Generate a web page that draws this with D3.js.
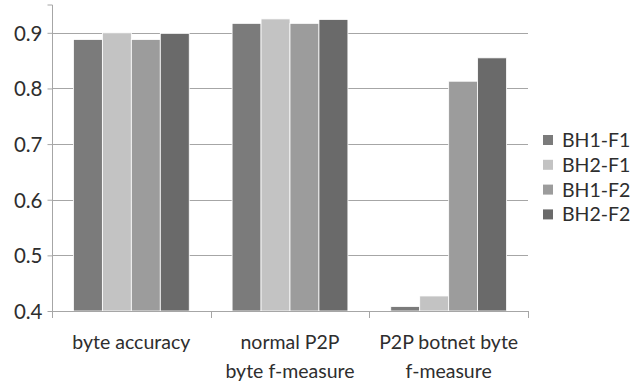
<!DOCTYPE html>
<html>
<head>
<meta charset="utf-8">
<script src="https://cdn.jsdelivr.net/npm/d3@7"></script>
<style>
  body { margin: 0; background: #fff; }
  svg text { font-family: Lato, "Open Sans", sans-serif; fill: #2e2e2e; }
</style>
</head>
<body>
<svg width="631" height="383"></svg>
<script>
// categories (x) and series
let categories = [["byte accuracy"], ["normal P2P", "byte f-measure"], ["P2P botnet byte", "f-measure"]];
let seriesNames = ["BH1-F1", "BH2-F1", "BH1-F2", "BH2-F2"];
let seriesColors = ["#7b7b7b", "#c3c3c3", "#9c9c9c", "#6a6a6a"];

// values per series, one per category
let bh1f1 = [0.888, 0.917, 0.408];
let bh2f1 = [0.900, 0.925, 0.427];
let bh1f2 = [0.888, 0.917, 0.813];
let bh2f2 = [0.899, 0.924, 0.855];

let yTicks = [0.4, 0.5, 0.6, 0.7, 0.8, 0.9];

let allValues = [bh1f1, bh2f1, bh1f2, bh2f2];

let svg = d3.select("svg");
let margin = { top: 5, right: 103, bottom: 72, left: 52 };
let width = +svg.attr("width"), height = +svg.attr("height");

let catKeys = categories.map(c => c.join(" "));

let x0 = d3.scaleBand()
  .domain(catKeys)
  .range([margin.left, width - margin.right])
  .padding(0);

let x1 = d3.scaleBand()
  .domain(seriesNames)
  .range([0, x0.bandwidth()])
  .paddingInner(0)
  .paddingOuter(0.74);

let y = d3.scaleLinear()
  .domain([0.4, 0.95])
  .range([height - margin.bottom, margin.top]);

// gridlines
svg.append("g")
  .selectAll("line")
  .data(yTicks.slice(1))
  .enter().append("line")
  .attr("x1", margin.left)
  .attr("x2", width - margin.right)
  .attr("y1", d => Math.round(y(d)) + 0.5)
  .attr("y2", d => Math.round(y(d)) + 0.5)
  .style("stroke", "#a6a6a6")
  .style("stroke-width", 1.2);

// bars
let groups = svg.append("g")
  .selectAll("g")
  .data(catKeys)
  .enter().append("g")
  .attr("transform", d => `translate(${x0(d)},0)`);

groups.selectAll("rect")
  .data((d, i) => seriesNames.map((s, j) => ({ series: s, value: allValues[j][i], color: seriesColors[j] })))
  .enter().append("rect")
  .attr("x", d => x1(d.series))
  .attr("width", x1.bandwidth())
  .attr("y", d => y(d.value))
  .attr("height", d => y(0.4) - y(d.value))
  .style("fill", d => d.color)
  .style("stroke", "#fff")
  .style("stroke-width", 0.8);

// y axis
let yAxis = svg.append("g")
  .attr("transform", `translate(${margin.left + 0.5},0)`)
  .call(d3.axisLeft(y).tickValues(yTicks).tickFormat(d3.format(".1f")).tickSize(5).tickPadding(5));

yAxis.select(".domain").style("stroke", "#a6a6a6").attr("d", `M-5,${y(0.95)}H0V${y(0.4)}`);
yAxis.selectAll(".tick line").style("stroke", "#a6a6a6");
yAxis.selectAll(".tick text")
  .style("font-size", "20.5px")
  .attr("dy", "0.36em");

// x axis line and category ticks
let xAxis = svg.append("g");
xAxis.append("line")
  .attr("x1", margin.left)
  .attr("x2", width - margin.right)
  .attr("y1", y(0.4) + 0.5)
  .attr("y2", y(0.4) + 0.5)
  .style("stroke", "#a6a6a6");

let boundaries = catKeys.map(d => x0(d)).concat([width - margin.right]);
xAxis.selectAll(".xtick")
  .data(boundaries)
  .enter().append("line")
  .attr("class", "xtick")
  .attr("x1", d => Math.round(d) + 0.5)
  .attr("x2", d => Math.round(d) + 0.5)
  .attr("y1", y(0.4))
  .attr("y2", y(0.4) + 7)
  .style("stroke", "#a6a6a6");

// category labels
let labels = xAxis.selectAll(".xlabel")
  .data(categories)
  .enter().append("text")
  .attr("class", "xlabel")
  .attr("text-anchor", "middle")
  .style("font-size", "19.5px")
  .attr("x", (d, i) => x0(catKeys[i]) + x0.bandwidth() / 2)
  .attr("y", y(0.4) + 38);

labels.selectAll("tspan")
  .data(d => d)
  .enter().append("tspan")
  .attr("x", function () { return this.parentNode.getAttribute("x"); })
  .attr("dy", (d, i) => i === 0 ? 0 : 29)
  .text(d => d);

// legend
let legend = svg.append("g")
  .attr("transform", "translate(543,135)");

let legendItem = legend.selectAll("g")
  .data(seriesNames)
  .enter().append("g")
  .attr("transform", (d, i) => `translate(0,${i * 24.8})`);

legendItem.append("rect")
  .attr("width", 10)
  .attr("height", 10)
  .style("fill", (d, i) => seriesColors[i]);

legendItem.append("text")
  .attr("x", 19)
  .attr("y", 5)
  .attr("dy", "0.36em")
  .style("font-size", "19.5px")
  .text(d => d);
</script>
</body>
</html>
